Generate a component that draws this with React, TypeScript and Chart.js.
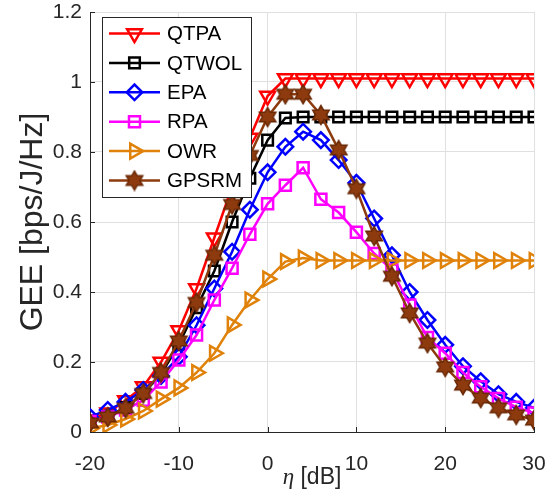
import React, { useEffect, useRef } from 'react';
import { Chart, registerables } from 'chart.js';
import { drawPoint } from 'chart.js/helpers';

Chart.register(...registerables);

// ---- data ----
const ETA_DB = [-20, -18, -16, -14, -12, -10, -8, -6, -4, -2, 0, 2, 4, 6, 8, 10, 12, 14, 16, 18, 20, 22, 24, 26, 28, 30];
const QTPA = [0.035, 0.055, 0.09, 0.13, 0.2, 0.29, 0.41, 0.555, 0.7, 0.84, 0.96, 1.01, 1.01, 1.01, 1.01, 1.01, 1.01, 1.01, 1.01, 1.01, 1.01, 1.01, 1.01, 1.01, 1.01, 1.01];
const QTWOL = [0.03, 0.045, 0.07, 0.11, 0.165, 0.25, 0.355, 0.46, 0.6, 0.725, 0.834, 0.897, 0.9, 0.9, 0.9, 0.9, 0.9, 0.9, 0.9, 0.9, 0.9, 0.9, 0.9, 0.9, 0.9, 0.9];
const EPA = [0.043, 0.063, 0.086, 0.12, 0.16, 0.215, 0.305, 0.41, 0.515, 0.635, 0.742, 0.815, 0.858, 0.834, 0.777, 0.712, 0.61, 0.505, 0.4, 0.32, 0.249, 0.188, 0.145, 0.108, 0.086, 0.069];
const RPA = [0.03, 0.043, 0.063, 0.091, 0.143, 0.206, 0.277, 0.377, 0.468, 0.565, 0.652, 0.705, 0.755, 0.665, 0.627, 0.571, 0.51, 0.463, 0.363, 0.27, 0.225, 0.17, 0.129, 0.096, 0.071, 0.054];
const OWR = [0.01, 0.02, 0.037, 0.06, 0.094, 0.126, 0.17, 0.225, 0.306, 0.377, 0.437, 0.487, 0.497, 0.49, 0.49, 0.49, 0.49, 0.49, 0.49, 0.49, 0.49, 0.49, 0.49, 0.49, 0.49, 0.49];
const GPSRM = [0.026, 0.043, 0.068, 0.11, 0.17, 0.26, 0.37, 0.505, 0.65, 0.79, 0.9, 0.965, 0.965, 0.906, 0.806, 0.695, 0.56, 0.445, 0.34, 0.254, 0.186, 0.134, 0.097, 0.069, 0.049, 0.034];

const SERIES_NAMES = ['QTPA', 'QTWOL', 'EPA', 'RPA', 'OWR', 'GPSRM'];
const SERIES_VALUES = [QTPA, QTWOL, EPA, RPA, OWR, GPSRM];
const X_TICKS = [-20, -10, 0, 10, 20, 30];
const Y_TICKS = [0, 0.2, 0.4, 0.6, 0.8, 1, 1.2];
const X_TITLE_SYMBOL = 'η';
const X_TITLE_UNIT = ' [dB]';
const Y_TITLE = 'GEE [bps/J/Hz]';

// ---- styles ----
const COLORS = ['#ff0000', '#000000', '#0000ff', '#ff00ff', '#e0820a', '#8c3a0e'];
const FONT = "'Liberation Sans', Arial, Helvetica, sans-serif";
const AXIS_COLOR = '#262626';
const GRID_COLOR = '#e0e0e0';
const LW = 2.5;

function makeHexagram(color: string): HTMLCanvasElement {
  const c = document.createElement('canvas');
  c.width = 22;
  c.height = 22;
  const g = c.getContext('2d')!;
  const cx = 11, cy = 11, R = 9.5, r = R / Math.sqrt(3);
  g.beginPath();
  for (let i = 0; i < 12; i++) {
    const ang = -Math.PI / 2 + (i * Math.PI) / 6;
    const rad = i % 2 === 0 ? R : r;
    const px = cx + Math.cos(ang) * rad;
    const py = cy + Math.sin(ang) * rad;
    if (i === 0) g.moveTo(px, py);
    else g.lineTo(px, py);
  }
  g.closePath();
  g.fillStyle = color;
  g.fill();
  g.lineWidth = 1.5;
  g.lineJoin = 'miter';
  g.strokeStyle = '#6a2805';
  g.stroke();
  return c;
}

export default function App() {
  const canvasRef = useRef<HTMLCanvasElement | null>(null);

  useEffect(() => {
    document.body.style.margin = '0';
    const canvas = canvasRef.current;
    if (!canvas) return;
    const hex = makeHexagram(COLORS[5]);

    const markers: any[] = [
      { pointStyle: 'triangle', rotation: 180, radius: 8.5 },
      { pointStyle: 'rect', rotation: 0, radius: 7.5 },
      { pointStyle: 'rectRot', rotation: 0, radius: 7.8 },
      { pointStyle: 'rect', rotation: 0, radius: 7.8 },
      { pointStyle: 'triangle', rotation: 90, radius: 8.5 },
      { pointStyle: hex, rotation: 0, radius: 9 },
    ];

    const datasets = SERIES_NAMES.map((name, i) => ({
      label: name,
      data: ETA_DB.map((x, j) => ({ x, y: SERIES_VALUES[i][j] })),
      borderColor: COLORS[i],
      backgroundColor: COLORS[i],
      borderWidth: LW,
      pointStyle: markers[i].pointStyle,
      pointRotation: markers[i].rotation,
      pointRadius: markers[i].radius,
      pointBorderWidth: LW,
      pointBorderColor: COLORS[i],
      pointBackgroundColor: 'rgba(0,0,0,0)',
      tension: 0,
      fill: false,
      order: SERIES_NAMES.length - i,
    }));

    const overlay = {
      id: 'overlay',
      beforeDatasetsDraw(chart: any) {
        const { ctx, chartArea, scales } = chart;
        ctx.save();
        ctx.strokeStyle = AXIS_COLOR;
        ctx.lineWidth = 1;
        ctx.beginPath();
        for (const v of Y_TICKS) {
          const y = Math.round(scales.y.getPixelForValue(v)) + 0.5;
          ctx.moveTo(chartArea.left, y);
          ctx.lineTo(chartArea.left + 5, y);
        }
        for (const v of X_TICKS) {
          const x = Math.round(scales.x.getPixelForValue(v)) + 0.5;
          ctx.moveTo(x, chartArea.bottom);
          ctx.lineTo(x, chartArea.bottom - 5);
        }
        ctx.stroke();
        ctx.restore();
      },
      afterDraw(chart: any) {
        const { ctx, chartArea } = chart;
        ctx.save();
        // y title
        ctx.fillStyle = AXIS_COLOR;
        ctx.font = `32px ${FONT}`;
        ctx.textAlign = 'center';
        ctx.textBaseline = 'alphabetic';
        ctx.translate(41.5, 222);
        ctx.rotate(-Math.PI / 2);
        ctx.fillText(Y_TITLE, 0, 0);
        ctx.restore();

        // x title
        ctx.save();
        ctx.fillStyle = AXIS_COLOR;
        const symFont = `italic 23px 'Liberation Serif', 'DejaVu Serif', serif`;
        const unitFont = `23px ${FONT}`;
        ctx.font = symFont;
        const w1 = ctx.measureText(X_TITLE_SYMBOL).width;
        ctx.font = unitFont;
        const w2 = ctx.measureText(X_TITLE_UNIT).width;
        const cx = (chartArea.left + chartArea.right) / 2;
        const x0 = cx - (w1 + w2) / 2;
        ctx.textAlign = 'left';
        ctx.textBaseline = 'alphabetic';
        ctx.font = symFont;
        ctx.fillText(X_TITLE_SYMBOL, x0, 484);
        ctx.font = unitFont;
        ctx.fillText(X_TITLE_UNIT, x0 + w1, 484);
        ctx.restore();

        // legend
        ctx.save();
        const lx = 102, ly = 17, lw = 149, lh = 180;
        ctx.fillStyle = '#ffffff';
        ctx.fillRect(lx, ly, lw, lh);
        ctx.strokeStyle = '#262626';
        ctx.lineWidth = 1;
        ctx.strokeRect(lx + 0.5, ly + 0.5, lw, lh);
        SERIES_NAMES.forEach((name, i) => {
          const y = 33.5 + i * 29.4;
          ctx.strokeStyle = COLORS[i];
          ctx.lineWidth = LW;
          ctx.beginPath();
          ctx.moveTo(109, y);
          ctx.lineTo(160, y);
          ctx.stroke();
          ctx.fillStyle = 'rgba(0,0,0,0)';
          ctx.strokeStyle = COLORS[i];
          ctx.lineWidth = LW;
          drawPoint(ctx, { pointStyle: markers[i].pointStyle, rotation: markers[i].rotation, radius: markers[i].radius, borderWidth: LW } as any, 134.5, y);
          ctx.fillStyle = '#000000';
          ctx.font = `20.5px ${FONT}`;
          ctx.textAlign = 'left';
          ctx.textBaseline = 'middle';
          ctx.fillText(name, 167, y + 1);
        });
        ctx.restore();
      },
    };

    const chart = new Chart(canvas, {
      type: 'line',
      data: { datasets },
      options: {
        responsive: false,
        animation: false,
        devicePixelRatio: 1,
        layout: { padding: { left: 0, right: 12, top: 12, bottom: 0 } },
        plugins: {
          legend: { display: false },
          tooltip: { enabled: false },
          title: { display: false },
        },
        scales: {
          x: {
            type: 'linear',
            min: -20,
            max: 30,
            afterBuildTicks: (s: any) => {
              s.ticks = X_TICKS.map((v) => ({ value: v }));
            },
            afterFit: (s: any) => {
              s.height = 61;
              s.paddingLeft = 0;
              s.paddingRight = 0;
            },
            ticks: {
              font: { family: FONT, size: 21 },
              color: AXIS_COLOR,
              padding: 20,
              maxRotation: 0,
              autoSkip: false,
              callback: (v: any) => String(v),
            },
            grid: { color: GRID_COLOR, drawTicks: false, lineWidth: 1 },
            border: { display: true, color: AXIS_COLOR, width: 1 },
          },
          y: {
            type: 'linear',
            min: 0,
            max: 1.2,
            afterBuildTicks: (s: any) => {
              s.ticks = Y_TICKS.map((v) => ({ value: v }));
            },
            afterFit: (s: any) => {
              s.width = 90;
              s.paddingTop = 0;
              s.paddingBottom = 0;
            },
            ticks: {
              font: { family: FONT, size: 21 },
              color: AXIS_COLOR,
              padding: 8,
              autoSkip: false,
              callback: (v: any) => String(Math.round(Number(v) * 10) / 10),
            },
            grid: { color: GRID_COLOR, drawTicks: false, lineWidth: 1 },
            border: { display: true, color: AXIS_COLOR, width: 1 },
          },
        },
      },
      plugins: [overlay],
    });

    return () => chart.destroy();
  }, []);

  return (
    <div style={{ width: 546, height: 493 }}>
      <canvas ref={canvasRef} width={546} height={493} style={{ display: 'block' }} />
    </div>
  );
}
